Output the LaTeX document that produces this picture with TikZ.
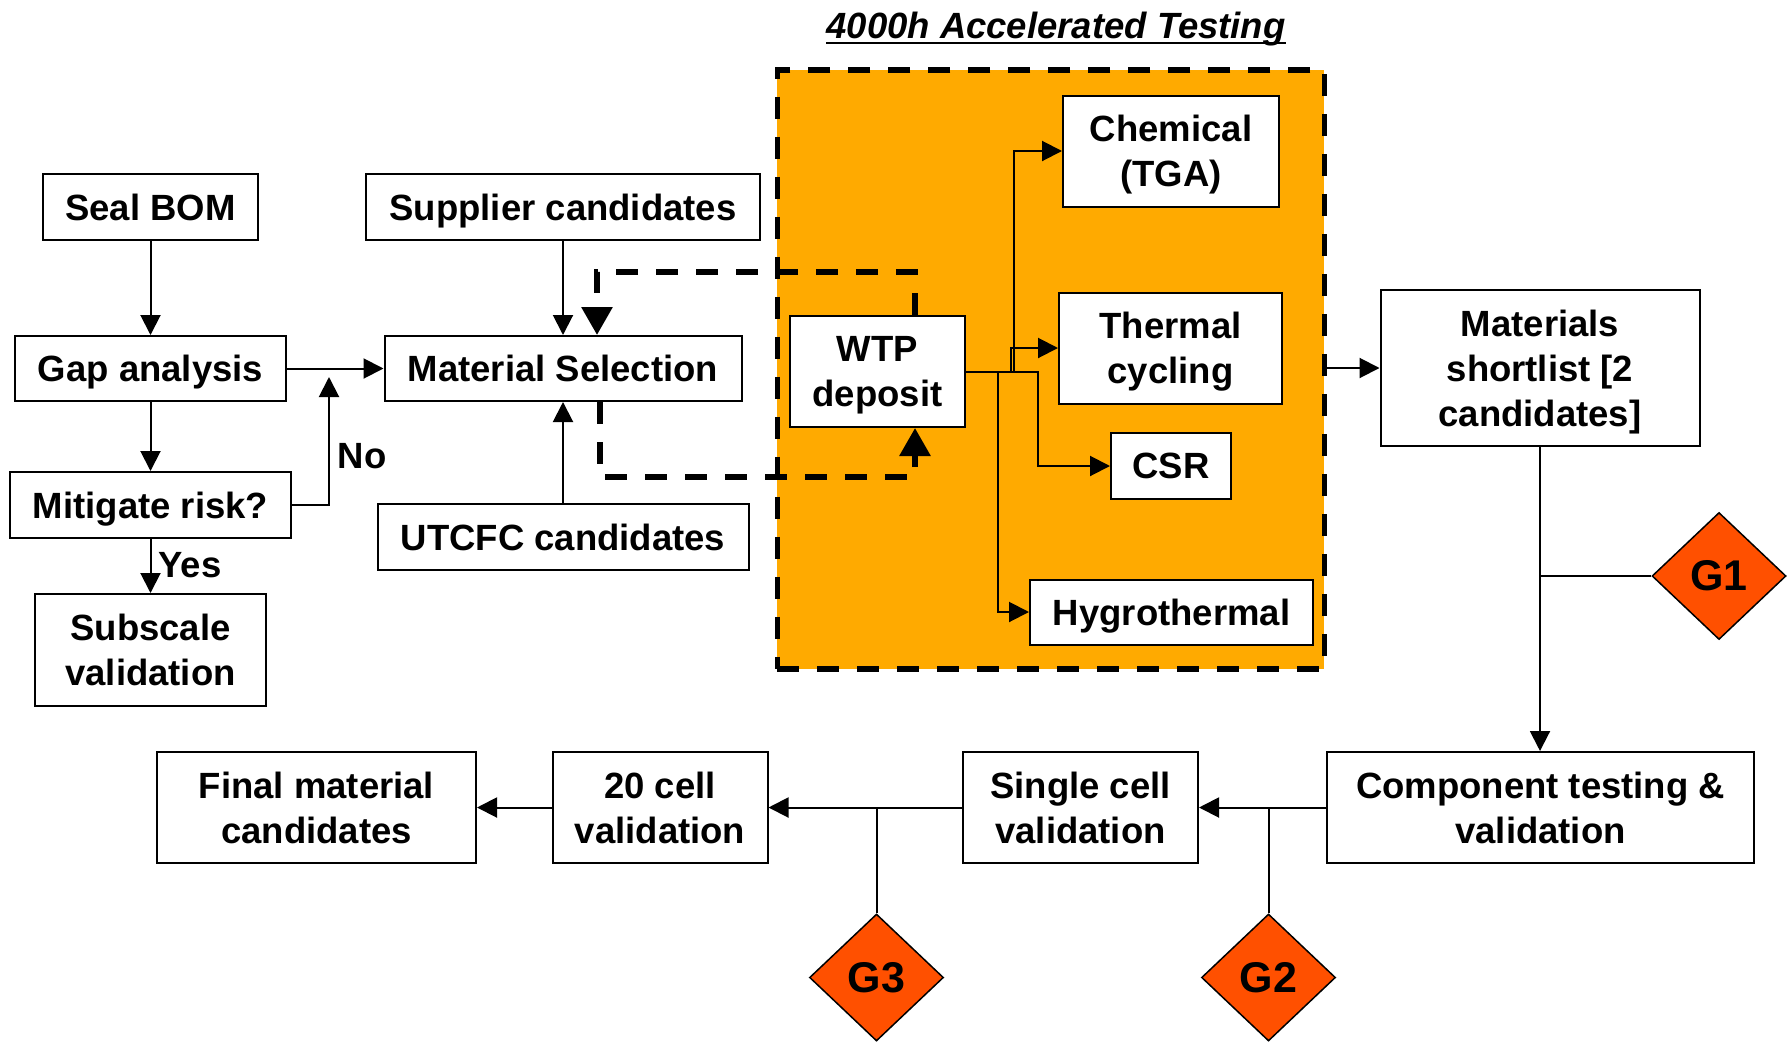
\documentclass[tikz,border=0pt]{standalone}
\usepackage{fontspec}
\setmainfont{Liberation Sans}
\usetikzlibrary{arrows.meta,shapes.geometric}
\definecolor{accorange}{RGB}{255,170,0}
\definecolor{gateorange}{RGB}{255,80,0}
\newcommand{\flatbase}[1]{\raisebox{0pt}[\height][0pt]{#1}}
\begin{document}
\begin{tikzpicture}[x=1pt,y=-1pt,
  every node/.style={font=\fontsize{36.5}{45}\selectfont\bfseries},
  box/.style={draw, line width=2pt, fill=white, inner sep=0pt, align=center, rectangle},
  conn/.style={line width=2pt},
  arr/.style={conn, -{Triangle[length=20pt,width=20pt]}},
  dashloop/.style={line width=6pt, dash pattern=on 22pt off 18pt, -{Triangle[length=28pt,width=30pt]}},
  gate/.style={diamond, draw, line width=1.5pt, fill=gateorange, inner sep=0pt, minimum width=134pt, minimum height=127pt, font=\fontsize{43}{50}\selectfont\bfseries},
  lbl/.style={inner sep=0pt}
]
\fill[white] (0,0) rectangle (1787,1041);
\useasboundingbox (0,0) rectangle (1787,1041);

% accelerated testing region
\node[draw, fill=accorange, line width=5.5pt, dash pattern=on 22pt off 18pt, inner sep=0pt, minimum width=547pt, minimum height=599pt] (acc) at (1050.75,369.25) {};
\node[anchor=base, inner sep=0pt, font=\fontsize{36.5}{45}\selectfont\bfseries\itshape] (title) at (1056,38) {4000h Accelerated Testing};
\draw[line width=2pt] ([yshift=-5pt]title.base west) -- ([yshift=-5pt]title.base east);

% left column
\node[box, minimum width=215pt, minimum height=66pt] (seal) at (150.5,207) {Seal BOM};
\node[box, minimum width=271pt, minimum height=65pt] (gap) at (150.5,368.5) {\flatbase{Gap analysis}};
\node[box, minimum width=281pt, minimum height=66pt] (mit) at (150.5,505) {\flatbase{Mitigate risk?}};
\node[box, minimum width=231pt, minimum height=112pt] (sub) at (150.5,650) {Subscale\\validation};

% material selection column
\node[box, minimum width=394pt, minimum height=66pt] (sup) at (563,207) {\flatbase{Supplier candidates}};
\node[box, minimum width=357pt, minimum height=65pt] (ms) at (563,368.5) {Material Selection};
\node[box, minimum width=371pt, minimum height=66pt] (utc) at (563,537) {UTCFC candidates};

% testing region
\node[box, minimum width=175pt, minimum height=111pt] (wtp) at (877.5,371.5) {WTP\\\flatbase{deposit}};
\node[box, minimum width=216pt, minimum height=111pt] (chem) at (1171,151) {Chemical\\\flatbase{(TGA)}};
\node[box, minimum width=223pt, minimum height=111pt] (therm) at (1170.5,348) {Thermal\\\flatbase{cycling}};
\node[box, minimum width=120pt, minimum height=66pt] (csr) at (1171,466) {CSR};
\node[box, minimum width=283pt, minimum height=65pt] (hyg) at (1171.5,612) {\flatbase{Hygrothermal}};

% right and bottom
\node[box, minimum width=319pt, minimum height=156pt] (short) at (1540,368) {Materials\\shortlist [2\\\flatbase{candidates]}};
\node[box, minimum width=427pt, minimum height=111pt] (comp) at (1540.5,807.5) {Component testing \&\\validation};
\node[box, minimum width=235pt, minimum height=111pt] (single) at (1080.5,807.5) {Single cell\\validation};
\node[box, minimum width=215pt, minimum height=111pt] (twenty) at (660,807.5) {20 cell\\validation};
\node[box, minimum width=319pt, minimum height=111pt] (final) at (316.5,807.5) {Final material\\candidates};

\node[gate] (g1) at (1719,576) {G1};
\node[gate] (g2) at (1268.5,977.5) {G2};
\node[gate] (g3) at (876.5,977.5) {G3};

% left connectors
\draw[arr] (seal) -- (gap);
\draw[arr] (gap) -- (mit);
\draw[arr] (mit) -- (sub);
\node[lbl] (yes) at (190,565) {Yes};
\draw[arr] (gap) -- (ms);
\coordinate (nojoin) at (329,377);
\draw[arr] (mit.east) -| (nojoin);
\node[lbl] (no) at (362,456) {No};
\draw[arr] (sup) -- (ms);
\draw[arr] (utc) -- (ms);

% dashed feedback loop
\coordinate (d1) at (915,272);
\coordinate (d2) at (597,272);
\coordinate (d3) at (600,477);
\coordinate (d4) at (915,477);
\draw[dashloop] (d1 |- wtp.north) -- (d1) -- (d2) -- (d2 |- ms.north);
\draw[dashloop] (d3 |- ms.south) -- (d3) -- (d4) -- (d4 |- wtp.south);

% WTP branches
\coordinate (bchem) at (1014,0);
\coordinate (btherm) at (1010.5,0);
\coordinate (bcsr) at (1038,0);
\coordinate (bhyg) at (998,0);
\draw[arr] (wtp.east) -- (wtp.east -| bchem) |- (chem.west);
\draw[arr] (wtp.east) -- (wtp.east -| btherm) |- (therm.west);
\draw[arr] (wtp.east) -- (wtp.east -| bcsr) |- (csr.west);
\draw[arr] (wtp.east) -- (wtp.east -| bhyg) |- (hyg.west);

% right side
\draw[arr] (acc.east |- short.west) -- (short.west);
\draw[arr] (short.south) -- (short.south |- comp.north);
\draw[conn] (g1.west) -- (g1.west -| short.south);

% bottom row
\draw[arr] (comp.west) -- (single.east);
\draw[arr] (single.west) -- (twenty.east);
\draw[arr] (twenty.west) -- (final.east);
\draw[conn] (g2.north) -- (g2.north |- comp.west);
\draw[conn] (g3.north) -- (g3.north |- single.west);
\end{tikzpicture}
\end{document}
